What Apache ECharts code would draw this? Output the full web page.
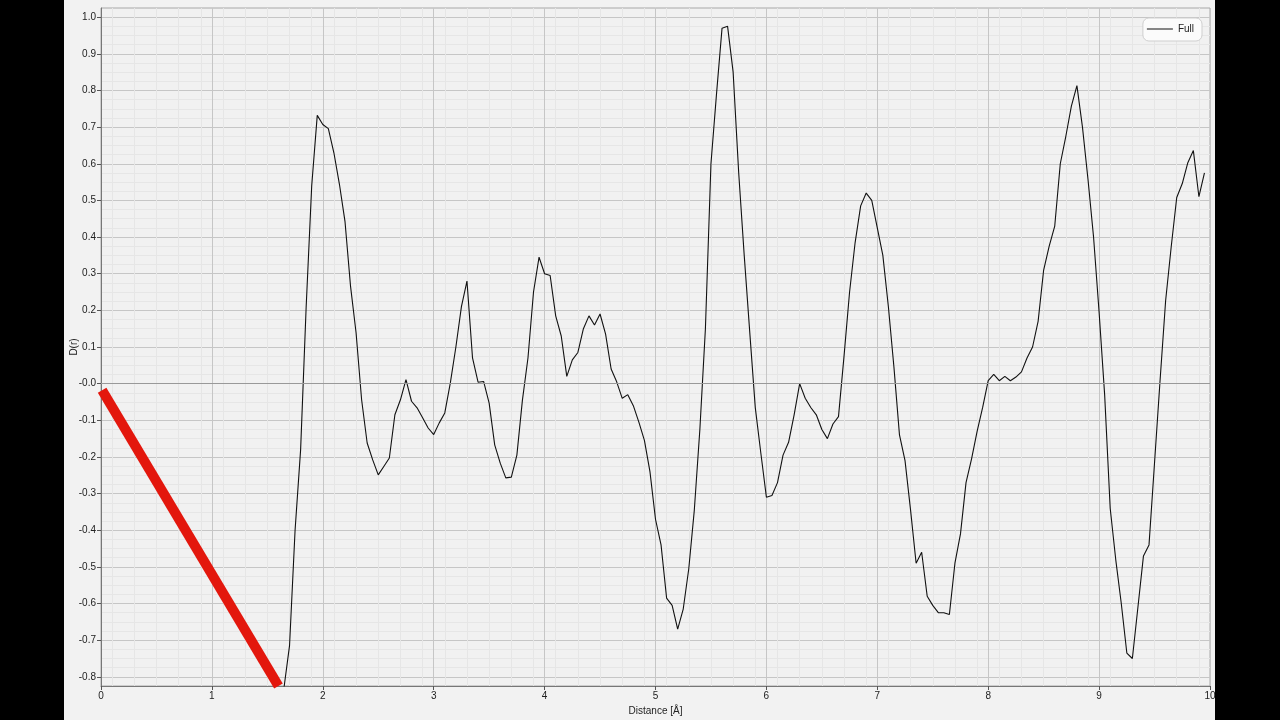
<!DOCTYPE html>
<html>
<head>
<meta charset="utf-8">
<script src="https://cdn.jsdelivr.net/npm/echarts@6/dist/echarts.min.js"></script>
<style>
html,body{margin:0;padding:0;background:#000;width:1280px;height:720px;overflow:hidden;}
#chart{position:absolute;left:64px;top:0;width:1151px;height:720px;background:#f2f2f2;}
</style>
</head>
<body>
<div id="chart"></div>
<script>
var distance = [1.65,1.70,1.75,1.80,1.85,1.90,1.95,2.00,2.05,2.10,2.15,2.20,2.25,2.30,2.35,2.40,2.45,2.50,2.55,2.60,2.65,2.70,2.75,2.80,2.85,2.90,2.95,3.00,3.05,3.10,3.15,3.20,3.25,3.30,3.35,3.40,3.45,3.50,3.55,3.60,3.65,3.70,3.75,3.80,3.85,3.90,3.95,4.00,4.05,4.10,4.15,4.20,4.25,4.30,4.35,4.40,4.45,4.50,4.55,4.60,4.65,4.70,4.75,4.80,4.85,4.90,4.95,5.00,5.05,5.10,5.15,5.20,5.25,5.30,5.35,5.40,5.45,5.50,5.55,5.60,5.65,5.70,5.75,5.80,5.85,5.90,5.95,6.00,6.05,6.10,6.15,6.20,6.25,6.30,6.35,6.40,6.45,6.50,6.55,6.60,6.65,6.70,6.75,6.80,6.85,6.90,6.95,7.00,7.05,7.10,7.15,7.20,7.25,7.30,7.35,7.40,7.45,7.50,7.55,7.60,7.65,7.70,7.75,7.80,7.85,7.90,7.95,8.00,8.05,8.10,8.15,8.20,8.25,8.30,8.35,8.40,8.45,8.50,8.55,8.60,8.65,8.70,8.75,8.80,8.85,8.90,8.95,9.00,9.05,9.10,9.15,9.20,9.25,9.30,9.35,9.40,9.45,9.50,9.55,9.60,9.65,9.70,9.75,9.80,9.85,9.90,9.95];
var fullD = [-0.83,-0.715,-0.40,-0.18,0.21,0.54,0.732,0.707,0.696,0.63,0.544,0.443,0.266,0.139,-0.044,-0.162,-0.208,-0.249,-0.226,-0.203,-0.085,-0.044,0.011,-0.048,-0.066,-0.093,-0.121,-0.139,-0.107,-0.08,0.002,0.10,0.21,0.28,0.07,0.004,0.006,-0.053,-0.167,-0.217,-0.257,-0.255,-0.195,-0.045,0.07,0.25,0.345,0.30,0.295,0.185,0.13,0.02,0.065,0.085,0.15,0.185,0.16,0.19,0.135,0.04,0.005,-0.04,-0.03,-0.06,-0.105,-0.155,-0.24,-0.37,-0.44,-0.585,-0.605,-0.67,-0.615,-0.505,-0.345,-0.125,0.15,0.60,0.79,0.97,0.975,0.85,0.576,0.35,0.14,-0.066,-0.19,-0.31,-0.305,-0.27,-0.195,-0.16,-0.085,0.0,-0.04,-0.065,-0.085,-0.125,-0.15,-0.11,-0.09,0.075,0.25,0.385,0.485,0.52,0.50,0.425,0.35,0.21,0.045,-0.14,-0.21,-0.345,-0.49,-0.46,-0.58,-0.605,-0.625,-0.625,-0.63,-0.49,-0.41,-0.27,-0.205,-0.13,-0.065,0.008,0.025,0.008,0.02,0.008,0.018,0.032,0.07,0.10,0.17,0.31,0.375,0.43,0.60,0.675,0.757,0.813,0.70,0.557,0.40,0.195,-0.03,-0.34,-0.48,-0.60,-0.735,-0.75,-0.61,-0.47,-0.44,-0.215,0.01,0.227,0.373,0.508,0.546,0.603,0.636,0.51,0.575];
var annotX = [0.01, 1.6];
var annotY = [-0.018, -0.825];
var xTicks = [0,1,2,3,4,5,6,7,8,9,10];
var yTicks = [-0.8,-0.7,-0.6,-0.5,-0.4,-0.3,-0.2,-0.1,0,0.1,0.2,0.3,0.4,0.5,0.6,0.7,0.8,0.9,1.0];
var seriesName = 'Full';

var fullData = distance.map(function(d,i){return [d, fullD[i]];});
var annotData = annotX.map(function(d,i){return [d, annotY[i]];});

// plot frame geometry (container px)
var G = {left: 37, right: 5, top: 8, bottom: 34};
var yMin = -0.825, yMax = 1.025;
var plotH = 720 - G.top - G.bottom;
var pxPerUnit = plotH / (yMax - yMin);
var gridB = {left: G.left, right: G.right,
  top: G.top + (yMax - yTicks[yTicks.length-1]) * pxPerUnit,
  bottom: G.bottom + (yTicks[0] - yMin) * pxPerUnit};

var FAINT = '#e6e6e6', MED = '#d8d8d8', DARK = '#c6c6c6';
var FONT = '"Liberation Sans", Arial, sans-serif';

var chart = echarts.init(document.getElementById('chart'));
chart.setOption({
  animation: false,
  textStyle: {fontFamily: FONT},
  grid: [
    {left: G.left, right: G.right, top: G.top, bottom: G.bottom, show: true, backgroundColor: '#f1f1f1', borderColor: '#a8a8a8', borderWidth: 1, containLabel: false, outerBoundsMode: 'none'},
    {left: gridB.left, right: gridB.right, top: gridB.top, bottom: gridB.bottom, show: false, containLabel: false, outerBoundsMode: 'none'}
  ],
  legend: {
    data: [seriesName], right: 13, top: 18, orient: 'vertical',
    backgroundColor: '#fbfbfb', borderColor: '#cfcfcf', borderWidth: 1, borderRadius: 6,
    padding: [6, 8, 7, 4], itemWidth: 26, itemHeight: 10, itemGap: 4,
    icon: 'path://M0,4.5 L26,4.5 L26,5.5 L0,5.5 Z',
    textStyle: {fontSize: 10, color: '#222', fontFamily: FONT}
  },
  xAxis: [
    { // main x axis: labels, ticks, 0.2 lines + 0.1 minor lines
      type: 'value', gridIndex: 0, min: 0, max: 10, interval: 0.2,
      name: 'Distance [Å]', nameLocation: 'middle', nameGap: 15,
      nameTextStyle: {fontSize: 10, color: '#222'},
      axisLine: {show: true, onZero: false, lineStyle: {color: '#777', width: 1}},
      axisTick: {show: true, customValues: xTicks, length: 4, lineStyle: {color: '#555'}},
      axisLabel: {customValues: xTicks, fontSize: 10, color: '#222', margin: 5,
        formatter: function(v){return String(Math.round(v));}},
      splitLine: {show: true, lineStyle: {width: 1, color: MED}},
      minorTick: {show: false, splitNumber: 2},
      minorSplitLine: {show: true, lineStyle: {width: 1, color: FAINT}}
    },
    { // integer lines
      type: 'value', gridIndex: 0, min: 0, max: 10, interval: 1,
      axisLine:{show:false}, axisTick:{show:false}, axisLabel:{show:false},
      splitLine: {show: true, lineStyle: {width: 1, color: DARK}}
    },
    { type: 'value', gridIndex: 1, min: 0, max: 10, interval: 1,
      axisLine:{show:false}, axisTick:{show:false}, axisLabel:{show:false}, splitLine:{show:false} }
  ],
  yAxis: [
    { // data axis (full plot height)
      type: 'value', gridIndex: 0, min: yMin, max: yMax,
      name: 'D(r)', nameLocation: 'middle', nameGap: 22, nameRotate: 90,
      nameTextStyle: {fontSize: 10, color: '#222'},
      axisLine: {show: true, onZero: false, lineStyle: {color: '#777', width: 1}},
      axisTick: {show: false}, axisLabel: {show: false}, splitLine: {show: false}
    },
    { // labelled axis spanning -0.8..1.0 at identical pixel scale
      type: 'value', gridIndex: 1, min: yTicks[0], max: yTicks[yTicks.length-1], interval: 0.1,
      axisLine: {show: false},
      axisTick: {show: true, length: 4, lineStyle: {color: '#555'}},
      axisLabel: {fontSize: 10, color: '#222', margin: 5, showMinLabel: true, showMaxLabel: true,
        formatter: function(v){var r = Math.round(v*10)/10; if (r === 0) return '-0.0'; return r.toFixed(1);}},
      splitLine: {show: true, showMinLine: true, showMaxLine: true, lineStyle: {width: 1, color: DARK}},
      minorTick: {show: false, splitNumber: 4},
      minorSplitLine: {show: true, lineStyle: {width: 1, color: FAINT}}
    }
  ],
  series: [
    {
      name: seriesName, type: 'line', xAxisIndex: 0, yAxisIndex: 0, data: fullData, showSymbol: false, symbol: 'none',
      lineStyle: {color: '#111', width: 1.1}, itemStyle: {color: '#111'},
      markLine: {silent: true, symbol: 'none', label: {show: false}, lineStyle: {color: '#999', type: 'solid', width: 1},
        data: [{yAxis: 0}], animation: false},
      z: 3
    },
    {
      name: 'annotation', type: 'line', xAxisIndex: 0, yAxisIndex: 0, data: annotData, showSymbol: false, symbol: 'none', silent: true,
      lineStyle: {color: '#e3170d', width: 10, cap: 'butt'}, z: 4
    }
  ]
});
</script>
</body>
</html>
